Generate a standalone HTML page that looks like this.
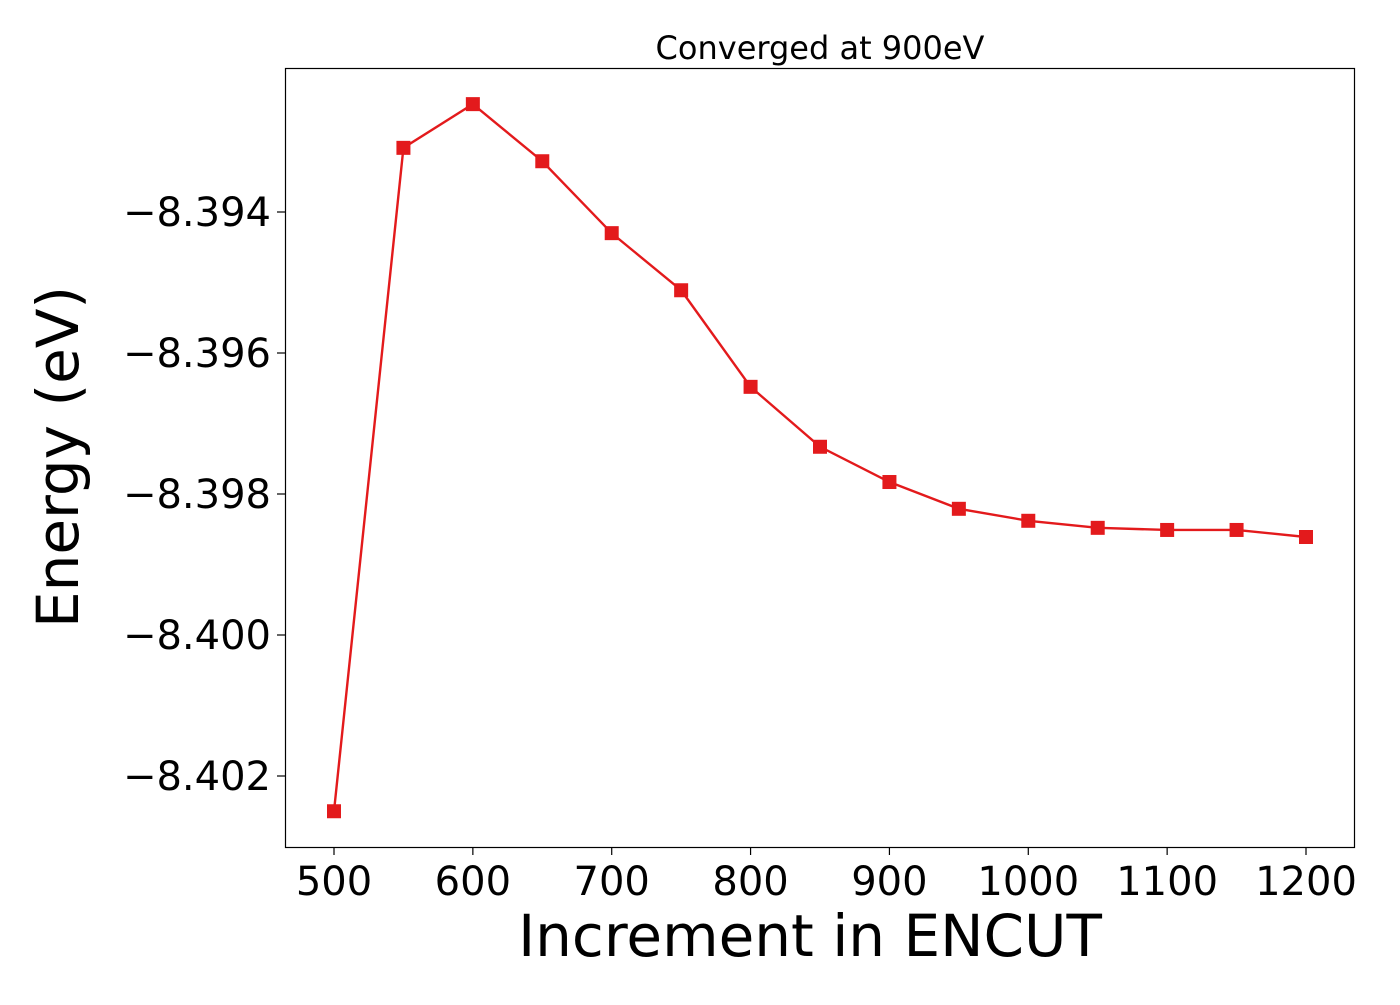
<!DOCTYPE html>
<html><head><meta charset="utf-8"><style>
html,body{margin:0;padding:0;background:#fff;}
svg text{font-family:"DejaVu Sans","Liberation Sans",sans-serif;fill:#000;}
</style></head><body>
<svg id="chart" width="1400" height="1000" xmlns="http://www.w3.org/2000/svg">
<rect width="1400" height="1000" fill="#fff"/>
<g id="grid"></g>
<g id="series"></g>
<rect x="285.5" y="68.5" width="1069" height="779" fill="none" stroke="#000" stroke-width="1.2"/>
<text x="820" y="59" font-size="32" text-anchor="middle">Converged at 900eV</text>
<text x="810" y="956" font-size="58" text-anchor="middle">Increment in ENCUT</text>
<text transform="translate(78,457) rotate(-90)" font-size="58" text-anchor="middle">Energy (eV)</text>
</svg>
<script>
const xValues=[500,550,600,650,700,750,800,850,900,950,1000,1050,1100,1150,1200];
const energies=[-8.40250,-8.39309,-8.39247,-8.39328,-8.39430,-8.39511,-8.39648,-8.39733,-8.39783,-8.39821,-8.39838,-8.39848,-8.39851,-8.39851,-8.39861];
const xTicks=[500,600,700,800,900,1000,1100,1200];
const yTicks=[-8.394,-8.396,-8.398,-8.400,-8.402];
const yTickLabels=["\u22128.394","\u22128.396","\u22128.398","\u22128.400","\u22128.402"];
const NS="http://www.w3.org/2000/svg";
function sx(v){return 334+(v-500)*(1306-334)/700;}
function sy(v){return 212+(-8.394-v)*(141/0.002);}
const svg=document.getElementById('chart');
const g=document.getElementById('grid');
function mk(t,a,p){const e=document.createElementNS(NS,t);for(const k in a)e.setAttribute(k,a[k]);(p||g).appendChild(e);return e;}
xTicks.forEach(t=>{
  const x=sx(t);
  const l=mk('line',{x1:x,x2:x,y1:847,y2:855,stroke:'#000','stroke-width':1.2});
  
  
  const tx=mk('text',{x:x,y:895,'font-size':40,'text-anchor':'middle'});
  tx.textContent=t;
  
  
});
yTicks.forEach((t,i)=>{
  const y=sy(t);
  const l=mk('line',{x1:277,x2:285,y1:y,y2:y,stroke:'#000','stroke-width':1.2});
  
  
  const tx=mk('text',{x:271,y:y+14,'font-size':40,'text-anchor':'end'});
  tx.textContent=yTickLabels[i];
  
  
});
const s=document.getElementById('series');
const pts=xValues.map((v,i)=>sx(v)+','+sy(energies[i])).join(' ');
const pl=mk('polyline',{points:pts,fill:'none',stroke:'#e31a1c','stroke-width':2.4},s);


xValues.forEach((v,i)=>{
  const r=mk('rect',{x:sx(v)-7,y:sy(energies[i])-7,width:14,height:14,fill:'#e31a1c'},s);
  
  
});
</script>
</body></html>
